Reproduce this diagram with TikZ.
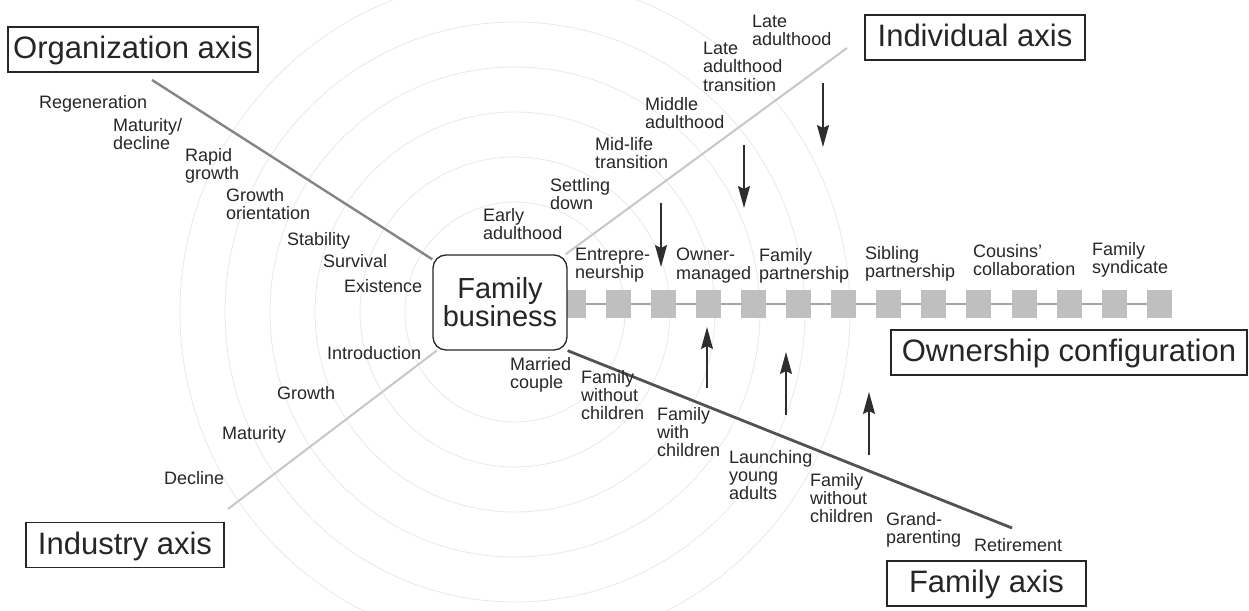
\documentclass[tikz,border=0pt]{standalone}
\usepackage{fontspec}
\setmainfont{Liberation Sans}
\usetikzlibrary{arrows.meta,backgrounds}
\begin{document}
\begin{tikzpicture}[x=1pt,y=-1pt,
  lbl/.style={anchor=north west,inner sep=0pt,align=left,text=black!85,font=\fontsize{18}{18.3}\selectfont},
  axisbox/.style={draw=black!85,line width=1.3pt,minimum height=45pt,inner sep=0pt,text height=23pt,text depth=5pt,text=black!85,font=\fontsize{31}{33}\selectfont},
  fbbox/.style={draw=black!85,line width=1.3pt,rounded corners=13pt,fill=white,minimum width=134pt,minimum height=95pt,inner sep=0pt,align=center,text=black!85,font=\fontsize{29}{28}\selectfont},
  sq/.style={fill=black!25,minimum width=25pt,minimum height=28pt,inner sep=0pt},
  circ/.style={draw=black!9,line width=0.8pt},
  orgline/.style={draw=black!48,line width=2.4pt},
  lightline/.style={draw=black!22,line width=2pt},
  famline/.style={draw=black!68,line width=2.8pt},
  barline/.style={draw=black!35,line width=1.5pt},
  arr/.style={draw=black!82,line width=1.4pt,-{Stealth[length=22pt,width=12pt,inset=3pt]}}
]
\useasboundingbox (0,0) rectangle (1249,610);

% ownership squares
\foreach \i in {1,...,14} \node[sq] (s\i) at ({573+45.1*(\i-1)},304) {};

% central box
\node[fbbox] (fb) at (500,302.5) {Family\\business};

% axis boxes
\node[axisbox,minimum width=250pt] (org) at (133,49.5) {Organization axis};
\node[axisbox,minimum width=220pt] (ind) at (975,37.5) {Individual axis};
\node[axisbox,minimum width=198pt] (inu) at (125,545) {Industry axis};
\node[axisbox,minimum width=356pt] (own) at (1069,352.5) {Ownership configuration};
\node[axisbox,minimum width=199pt] (fam) at (986.5,583.5) {Family axis};

% axis end points
\coordinate (orgEnd) at (152,80);
\coordinate (indEnd) at (847,48);
\coordinate (inuEnd) at (228,509);
\coordinate (famEnd) at (1012,528);

\begin{scope}[on background layer]
  \clip (0,0) rectangle (1249,610);
  \foreach \r in {110,155,200,245,290,335} \draw[circ] (515,312) circle[radius=\r pt];
  \draw[orgline] (orgEnd) -- (fb);
  \draw[lightline] (fb) -- (indEnd);
  \draw[lightline] (inuEnd) -- (fb);
  \draw[famline] (fb.south east) -- (famEnd);
  \draw[barline] (fb.east |- s1) -- (s14.center);
\end{scope}

% organization axis labels
\node[lbl] (o1) at (39,95) {Regeneration};
\node[lbl] (o2) at (113,118) {Maturity/\\decline};
\node[lbl] (o3) at (185,148) {Rapid\\growth};
\node[lbl] (o4) at (226,188) {Growth\\orientation};
\node[lbl] (o5) at (287,232) {Stability};
\node[lbl] (o6) at (323,254) {Survival};
\node[lbl] (o7) at (344,279) {Existence};

% industry axis labels
\node[lbl] (i1) at (327,346) {Introduction};
\node[lbl] (i2) at (277,386) {Growth};
\node[lbl] (i3) at (222,426) {Maturity};
\node[lbl] (i4) at (164,471) {Decline};

% individual axis labels
\node[lbl] (v1) at (752,15) {Late\\adulthood};
\node[lbl] (v2) at (703,42) {Late\\adulthood\\transition};
\node[lbl] (v3) at (645,97) {Middle\\adulthood};
\node[lbl] (v4) at (595,137) {Mid-life\\transition};
\node[lbl] (v5) at (550,178) {Settling\\down};
\node[lbl] (v6) at (483,208) {Early\\adulthood};

% ownership labels
\node[lbl] (w1) at (575,248) {Entrepre-\\neurship};
\node[lbl] (w2) at (676,248) {Owner-\\managed};
\node[lbl] (w3) at (759,248) {Family\\partnership};
\node[lbl] (w4) at (865,246) {Sibling\\partnership};
\node[lbl] (w5) at (973,244) {Cousins'\\collaboration};
\node[lbl] (w6) at (1092,242) {Family\\syndicate};

% family axis labels
\node[lbl] (f1) at (510,357) {Married\\couple};
\node[lbl] (f2) at (581,370) {Family\\without\\children};
\node[lbl] (f3) at (657,407) {Family\\with\\children};
\node[lbl] (f4) at (729,450) {Launching\\young\\adults};
\node[lbl] (f5) at (810,473) {Family\\without\\children};
\node[lbl] (f6) at (886,512) {Grand-\\parenting};
\node[lbl] (f7) at (974,538) {Retirement};

% arrows
\coordinate (d1s) at (661,203); \coordinate (d1e) at (661,267);
\coordinate (d2s) at (744,145); \coordinate (d2e) at (744,208);
\coordinate (d3s) at (823,83);  \coordinate (d3e) at (823,147);
\coordinate (u1s) at (707,388); \coordinate (u1e) at (707,327);
\coordinate (u2s) at (786,415); \coordinate (u2e) at (786,352);
\coordinate (u3s) at (869,455); \coordinate (u3e) at (869,392);
\draw[arr] (d1s) -- (d1e);
\draw[arr] (d2s) -- (d2e);
\draw[arr] (d3s) -- (d3e);
\draw[arr] (u1s) -- (u1e);
\draw[arr] (u2s) -- (u2e);
\draw[arr] (u3s) -- (u3e);
\end{tikzpicture}
\end{document}
